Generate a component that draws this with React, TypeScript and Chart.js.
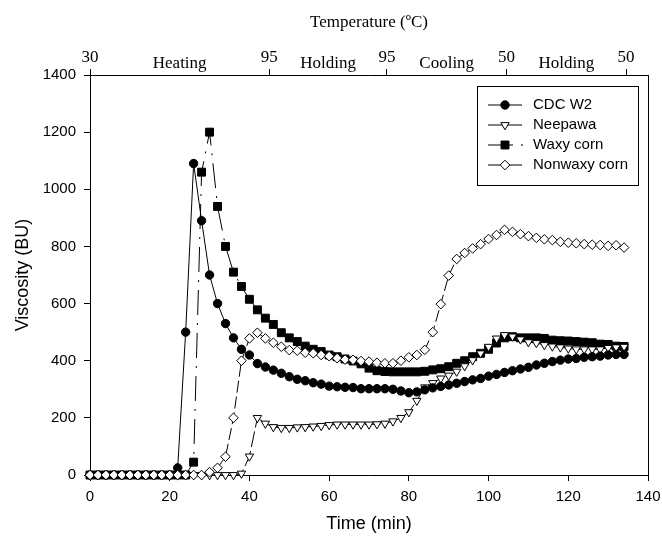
import React, { useEffect, useRef } from "react";
import { Chart, registerables } from "chart.js";
import { drawPoint } from "chart.js/helpers";

Chart.register(...registerables);

// Time (min)
const times = [
  0, 2, 4, 6, 8, 10, 12, 14, 16, 18, 20, 22, 24, 26, 28, 30, 32, 34, 36, 38,
  40, 42, 44, 46, 48, 50, 52, 54, 56, 58, 60, 62, 64, 66, 68, 70, 72, 74, 76, 78,
  80, 82, 84, 86, 88, 90, 92, 94, 96, 98, 100, 102, 104, 106, 108, 110, 112, 114,
  116, 118, 120, 122, 124, 126, 128, 130, 132, 134,
];

const cdcW2 = [
  0, 0, 0, 0, 0, 0, 0, 0, 0, 0, 0, 25, 500, 1090, 890, 700, 600, 530, 480, 440,
  420, 390, 378, 367, 356, 344, 335, 330, 323, 318, 311, 309, 307, 306, 302, 302, 302, 302, 300, 294,
  288, 291, 298, 305, 310, 315, 321, 327, 333, 338, 346, 352, 359, 365, 371, 377, 385, 391,
  397, 402, 406, 408, 412, 414, 416, 420, 422, 422,
];

const neepawa = [
  0, 0, 0, 0, 0, 0, 0, 0, 0, 0, 0, 0, 0, 0, 0, 0, 0, 0, 0, 5,
  65, 200, 180, 168, 165, 165, 167, 168, 170, 172, 175, 177, 177, 177, 177, 177, 178, 180, 188, 200,
  220, 260, 307, 322, 338, 348, 362, 381, 402, 426, 449, 478, 490, 485, 475, 465, 462, 455,
  450, 447, 443, 440, 440, 440, 440, 445, 447, 449,
];

const waxyCorn = [
  0, 0, 0, 0, 0, 0, 0, 0, 0, 0, 0, 0, 0, 45, 1060, 1200, 940, 800, 710, 660,
  615, 578, 549, 527, 498, 480, 467, 451, 440, 432, 420, 414, 406, 399, 389, 374, 365, 362, 361, 361,
  361, 361, 363, 368, 372, 379, 391, 400, 414, 426, 440, 462, 480, 484, 480, 480, 480, 478,
  472, 470, 469, 467, 465, 463, 458, 457, 451, 450,
];

const nonwaxyCorn = [
  0, 0, 0, 0, 0, 0, 0, 0, 0, 0, 0, 0, 0, 0, 0, 10, 25, 64, 200, 400,
  478, 498, 478, 463, 449, 437, 435, 428, 426, 420, 416, 409, 404, 403, 399, 397, 393, 391, 391, 400,
  412, 420, 438, 500, 598, 698, 756, 777, 793, 808, 826, 840, 858, 851, 843, 836, 830, 825,
  822, 816, 813, 811, 808, 806, 805, 802, 804, 796,
];

const seriesLabels = ["CDC W2", "Neepawa", "Waxy corn", "Nonwaxy corn"];

// Top temperature axis
const tempTickTimes = [0, 45, 74.5, 104.5, 134.5];
const tempTickLabels = ["30", "95", "95", "50", "50"];
const phaseLabels = ["Heating", "Holding", "Cooling", "Holding"];

const SANS = "'Liberation Sans', Arial, Helvetica, sans-serif";
const SERIF = "'Liberation Serif', 'Times New Roman', serif";

const lineDashes: number[][] = [[], [16, 4], [25, 8, 2, 8], [12, 4]];
const legendDashes: number[][] = [[], [], [25, 8, 2, 8], []];

const toPoints = (vals: number[]) => vals.map((v, i) => ({ x: times[i], y: v }));

const phasePlugin = {
  id: "phaseLabels",
  afterDraw(chart: any) {
    const sc = chart.scales.xTop;
    const { ctx, chartArea } = chart;
    ctx.save();
    ctx.fillStyle = "#000";
    ctx.font = `17px ${SERIF}`;
    ctx.textAlign = "center";
    ctx.textBaseline = "alphabetic";
    for (let i = 0; i < phaseLabels.length; i++) {
      const mid = (tempTickTimes[i] + tempTickTimes[i + 1]) / 2;
      ctx.fillText(phaseLabels[i], sc.getPixelForValue(mid), chartArea.top - 7);
    }
    // right frame
    ctx.strokeStyle = "#000";
    ctx.lineWidth = 1;
    ctx.beginPath();
    ctx.moveTo(chartArea.right + 0.5, chartArea.top);
    ctx.lineTo(chartArea.right + 0.5, chartArea.bottom);
    ctx.stroke();
    ctx.restore();
  },
};

const legendPlugin = {
  id: "boxLegend",
  afterDraw(chart: any) {
    const { ctx, chartArea } = chart;
    const w = 161;
    const h = 99;
    const right = chartArea.right - 10;
    const left = right - w;
    const top = chartArea.top + 11;
    ctx.save();
    ctx.fillStyle = "#fff";
    ctx.fillRect(left, top, w, h);
    ctx.strokeStyle = "#000";
    ctx.lineWidth = 1;
    ctx.strokeRect(Math.round(left) + 0.5, Math.round(top) + 0.5, w, h);
    chart.data.datasets.forEach((ds: any, i: number) => {
      const y = top + 19 + i * 20;
      ctx.strokeStyle = "#000";
      ctx.lineWidth = 1;
      ctx.setLineDash(legendDashes[i]);
      ctx.beginPath();
      ctx.moveTo(left + 11, y);
      ctx.lineTo(left + (legendDashes[i].length ? 47 : 45), y);
      ctx.stroke();
      ctx.setLineDash([]);
      ctx.fillStyle = ds.pointBackgroundColor;
      ctx.strokeStyle = ds.pointBorderColor;
      drawPoint(
        ctx,
        {
          pointStyle: ds.pointStyle,
          rotation: ds.pointRotation || 0,
          radius: ds.pointRadius,
          borderWidth: 1,
        } as any,
        left + 28,
        y
      );
      ctx.fillStyle = "#000";
      ctx.font = `15px ${SANS}`;
      ctx.textAlign = "left";
      ctx.textBaseline = "middle";
      ctx.fillText(ds.label, left + 56, y);
    });
    ctx.restore();
  },
};

export default function App() {
  const canvasRef = useRef<HTMLCanvasElement | null>(null);

  useEffect(() => {
    if (!canvasRef.current) return;
    const common = {
      borderColor: "#000",
      borderWidth: 1,
      pointBorderColor: "#000",
      pointBorderWidth: 1,
      tension: 0,
      clip: false as any,
    };
    const chart = new Chart(canvasRef.current, {
      type: "line",
      data: {
        datasets: [
          {
            ...common,
            label: seriesLabels[0],
            data: toPoints(cdcW2),
            pointStyle: "circle",
            pointRadius: 4.2,
            pointBackgroundColor: "#000",
            borderDash: lineDashes[0],
          },
          {
            ...common,
            label: seriesLabels[1],
            data: toPoints(neepawa),
            pointStyle: "triangle",
            pointRotation: 180,
            pointRadius: 4.8,
            pointBackgroundColor: "#fff",
            borderDash: lineDashes[1],
          },
          {
            ...common,
            label: seriesLabels[2],
            data: toPoints(waxyCorn),
            pointStyle: "rect",
            pointRadius: 5.6,
            pointBackgroundColor: "#000",
            borderDash: lineDashes[2],
          },
          {
            ...common,
            label: seriesLabels[3],
            data: toPoints(nonwaxyCorn),
            pointStyle: "rectRot",
            pointRadius: 4.8,
            pointBackgroundColor: "#fff",
            borderDash: lineDashes[3],
            order: -1,
          },
        ] as any,
      },
      options: {
        animation: false,
        responsive: false,
        devicePixelRatio: 1,
        layout: { padding: { left: 0, right: 14, top: 0, bottom: 0 } },
        plugins: {
          legend: { display: false },
          tooltip: { enabled: false },
        },
        scales: {
          x: {
            type: "linear",
            position: "bottom",
            min: 0,
            max: 140,
            ticks: {
              stepSize: 20,
              color: "#000",
              font: { family: SANS, size: 15 },
              padding: 7,
              maxRotation: 0,
              callback: (v: any) => String(v),
            },
            grid: {
              drawOnChartArea: false,
              drawTicks: true,
              tickLength: 6,
              color: "#000",
            },
            border: { display: true, color: "#000", width: 1 },
            title: {
              display: true,
              text: "Time (min)",
              color: "#000",
              font: { family: SANS, size: 18 },
              padding: { top: 0, bottom: 5 },
            },
            afterFit: (s: any) => {
              s.height = 65;
              s.paddingLeft = 0;
              s.paddingRight = 0;
            },
          },
          xTop: {
            type: "linear",
            position: "top",
            min: 0,
            max: 140,
            afterBuildTicks: (s: any) => {
              s.ticks = tempTickTimes.map((v) => ({ value: v }));
            },
            ticks: {
              autoSkip: false,
              maxRotation: 0,
              color: "#000",
              font: { family: SERIF, size: 17 },
              padding: 1,
              callback: (_v: any, i: number) => tempTickLabels[i],
            },
            grid: {
              drawOnChartArea: false,
              drawTicks: true,
              tickLength: 6,
              color: "#000",
            },
            border: { display: true, color: "#000", width: 1 },
            title: {
              display: true,
              text: "Temperature (ºC)",
              color: "#000",
              font: { family: SERIF, size: 17 },
              padding: { top: 12, bottom: 0 },
            },
            afterFit: (s: any) => {
              s.height = 75;
              s.paddingLeft = 0;
              s.paddingRight = 0;
            },
          },
          y: {
            type: "linear",
            position: "left",
            min: 0,
            max: 1400,
            ticks: {
              stepSize: 200,
              color: "#000",
              font: { family: SANS, size: 15 },
              padding: 8,
              callback: (v: any) => String(v),
            },
            grid: {
              drawOnChartArea: false,
              drawTicks: true,
              tickLength: 6,
              color: "#000",
            },
            border: { display: true, color: "#000", width: 1 },
            title: {
              display: true,
              text: "Viscosity (BU)",
              color: "#000",
              font: { family: SANS, size: 18 },
              padding: { top: 12, bottom: 0 },
            },
            afterFit: (s: any) => {
              s.width = 90;
              s.paddingTop = 0;
              s.paddingBottom = 0;
            },
          },
        },
      } as any,
      plugins: [phasePlugin, legendPlugin],
    });
    return () => chart.destroy();
  }, []);

  return (
    <div style={{ position: "absolute", left: 0, top: 0, width: 662, height: 540, background: "#fff" }}>
      <canvas ref={canvasRef} width={662} height={540} style={{ display: "block" }} />
    </div>
  );
}
